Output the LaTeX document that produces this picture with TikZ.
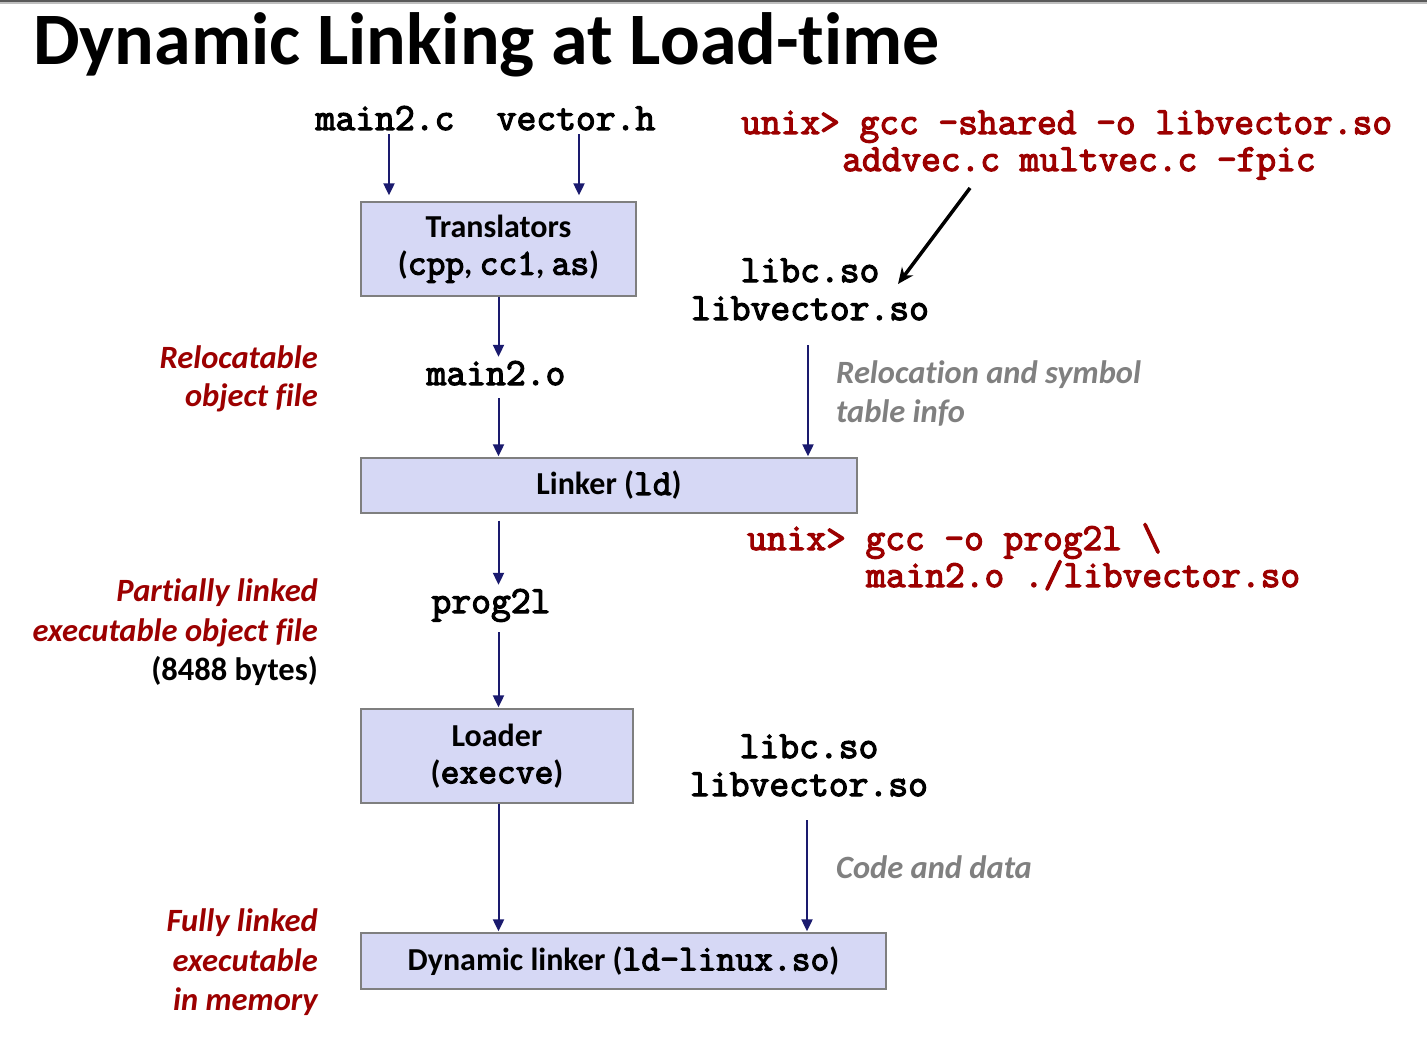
\documentclass[tikz,border=0pt]{standalone}
\usepackage{fontspec}
\setmainfont{Carlito}[Ligatures=NoCommon]
\setmonofont{Latin Modern Mono}[AutoFakeBold=3.2]
\usetikzlibrary{arrows.meta}
\definecolor{navy}{HTML}{1A1A6E}
\definecolor{dred}{HTML}{9C0000}
\definecolor{boxfill}{HTML}{D6D8F5}
\definecolor{boxline}{HTML}{7F7F7F}
\definecolor{notegray}{HTML}{808080}
\newcommand\mytt[1]{{\fontsize{36.5}{37}\selectfont\ttfamily #1}}
\newcommand\myttb[1]{{\fontsize{36.5}{37}\selectfont\ttfamily\bfseries #1}}
\begin{document}
\begin{tikzpicture}[x=1pt,y=-1pt,
  titlestyle/.style={font=\fontsize{74}{80}\selectfont\bfseries, anchor=base west, inner sep=0pt},
  code/.style={font=\fontsize{38.5}{38}\selectfont\ttfamily\bfseries, inner sep=4pt, anchor=base},
  redcode/.style={font=\fontsize{38.3}{38}\selectfont\ttfamily\bfseries, text=dred, inner sep=0pt, anchor=base west},
  lab/.style={font=\fontsize{32.5}{39}\selectfont\bfseries\itshape, text=dred, inner sep=0pt, anchor=base east},
  plainlab/.style={font=\fontsize{32.5}{39}\selectfont\bfseries, inner sep=0pt, anchor=base east},
  notestyle/.style={font=\fontsize{32.5}{39}\selectfont\bfseries\itshape, text=notegray, inner sep=0pt, anchor=base west},
  box/.style={draw=boxline, fill=boxfill, line width=1.3pt, font=\fontsize{32}{37}\selectfont\bfseries, align=center, inner sep=0pt},
  arr/.style={navy, line width=2pt, -{Triangle[length=12pt,width=11pt]}},
  blackarr/.style={black, line width=3.5pt, -{Stealth[length=16pt,width=14pt]}}
]
\useasboundingbox (0,0) rectangle (1427,1038);
\fill[white] (0,0) rectangle (1427,1038);
% top border
\fill[black!65] (0,0) rectangle (1427,2.5);
\fill[black!25] (0,2.5) rectangle (1427,4);

\node[titlestyle] (title) at (33,65) {Dynamic Linking at Load-time};

% inputs
\node[code] (main2c) at (385,130) {main2.c};
\node[code] (vech) at (576,130) {vector.h};

% shared library command
\node[redcode] (sh1) at (741,134) {unix> gcc -shared -o libvector.so};
\node[redcode] (sh2) at (842,171) {addvec.c multvec.c -fpic};
\coordinate (bt) at (970,188);
\coordinate (bh) at (898,284);

\node[code] (libc1) at (810,282) {libc.so};
\node[code] (libv1) at (810,320) {libvector.so};

% translators
\node[box, minimum width=275pt, minimum height=94pt] (trans) at (498.5,249) {Translators\\(\myttb{cpp}, \myttb{cc1}, \myttb{as})};

\node[lab] (rel1) at (318,368) {Relocatable};
\node[lab] (rel2) at (318,406) {object file};
\node[code] (main2o) at (496,385) {main2.o};
\node[notestyle] (ri1) at (836,383) {Relocation and symbol};
\node[notestyle] (ri2) at (836,422) {table info};

% linker
\node[box, minimum width=496pt, minimum height=55pt] (linker) at (609,485.5) {Linker (\mytt{ld})};

\node[redcode] (gc1) at (747,550) {unix> gcc -o prog2l \textbackslash};
\node[redcode] (gc2) at (866,587) {main2.o ./libvector.so};

\node[code] (prog) at (491,613) {prog2l};
\node[lab] (pl1) at (318,601) {Partially linked};
\node[lab] (pl2) at (318,641) {executable object file};
\node[plainlab] (pl3) at (318,680) {(8488 bytes)};

% loader
\node[box, minimum width=272pt, minimum height=94pt] (loader) at (497,756) {Loader\\(\myttb{execve})};

\node[code] (libc2) at (809,758) {libc.so};
\node[code] (libv2) at (809,796) {libvector.so};
\node[notestyle] (cd) at (836,878) {Code and data};

\node[lab] (fl1) at (318,931) {Fully linked};
\node[lab] (fl2) at (318,971) {executable};
\node[lab] (fl3) at (318,1010) {in memory};

% dynamic linker
\node[box, minimum width=525pt, minimum height=56pt] (dyn) at (623.5,961) {Dynamic linker (\mytt{ld-linux.so})};

% connectors
\draw[arr, shorten >=6pt] ([xshift=4pt]main2c.south) -- ([xshift=4pt]main2c.south |- trans.north);
\draw[arr, shorten >=6pt] ([xshift=3pt]vech.south) -- ([xshift=3pt]vech.south |- trans.north);
\draw[arr] (trans.south) -- (trans.south |- main2o.north);
\draw[arr, shorten <=9pt, shorten >=1pt] (trans.south |- main2o.south) -- (trans.south |- linker.north);
\draw[arr, shorten <=21pt, shorten >=1pt] ([xshift=-2pt]libv1.south) -- ([xshift=-2pt]libv1.south |- linker.north);
\draw[arr, shorten <=7pt] (trans.south |- linker.south) -- (trans.south |- prog.north);
\draw[arr, shorten <=6pt, shorten >=1pt] (trans.south |- prog.south) -- (trans.south |- loader.north);
\draw[arr, shorten >=1pt] (trans.south |- loader.south) -- (trans.south |- dyn.north);
\draw[arr, shorten <=20pt, shorten >=1pt] ([xshift=-2pt]libv2.south) -- ([xshift=-2pt]libv2.south |- dyn.north);
\draw[blackarr] (bt) -- (bh);
\end{tikzpicture}
\end{document}
